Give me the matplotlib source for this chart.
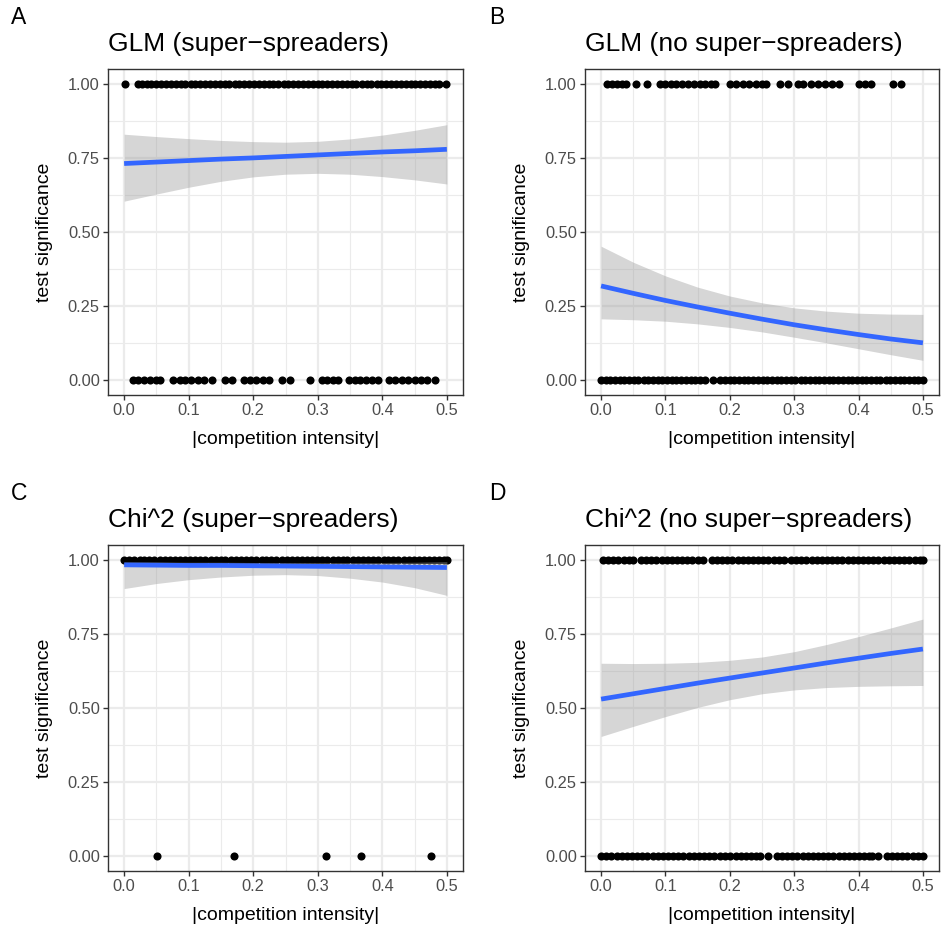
import numpy as np
import matplotlib
matplotlib.use("Agg")
import matplotlib.pyplot as plt

plt.rcParams['font.family'] = ['Liberation Sans', 'DejaVu Sans']

# points : x value of each test, y = 1 (significant) or 0 (not)
A_top = [0.002, 0.021, 0.028, 0.035, 0.042, 0.05, 0.057, 0.065, 0.073, 0.08, 0.088, 0.095, 0.103, 0.11,
         0.118, 0.125, 0.133, 0.14, 0.148, 0.156, 0.163, 0.171, 0.178, 0.186, 0.194, 0.201, 0.209, 0.216,
         0.224, 0.231, 0.239, 0.247, 0.254, 0.262, 0.27, 0.277, 0.285, 0.292, 0.3, 0.307, 0.315, 0.322,
         0.33, 0.338, 0.345, 0.353, 0.36, 0.368, 0.376, 0.383, 0.391, 0.398, 0.406, 0.413, 0.421, 0.429,
         0.436, 0.444, 0.451, 0.459, 0.466, 0.474, 0.481, 0.488, 0.498]
A_bottom = [0.014, 0.022, 0.031, 0.04, 0.05, 0.056, 0.076, 0.086, 0.095, 0.104, 0.114, 0.124, 0.136,
            0.157, 0.167, 0.185, 0.195, 0.205, 0.215, 0.225, 0.245, 0.257, 0.288, 0.306, 0.315, 0.323,
            0.332, 0.348, 0.357, 0.366, 0.375, 0.384, 0.393, 0.41, 0.42, 0.43, 0.44, 0.45, 0.46, 0.47, 0.482]

B_top = [0.009, 0.017, 0.025, 0.033, 0.039, 0.055, 0.071, 0.092, 0.1, 0.108, 0.117, 0.126, 0.135, 0.144,
         0.153, 0.162, 0.17, 0.177, 0.2, 0.21, 0.22, 0.23, 0.24, 0.25, 0.256, 0.278, 0.29, 0.306, 0.314,
         0.326, 0.337, 0.348, 0.359, 0.369, 0.4, 0.41, 0.42, 0.454, 0.466]
B_bottom = [0.0, 0.007, 0.014, 0.022, 0.029, 0.036, 0.044, 0.051, 0.058, 0.066, 0.073, 0.08, 0.088, 0.095,
            0.102, 0.11, 0.117, 0.124, 0.132, 0.139, 0.146, 0.154, 0.161, 0.174, 0.185, 0.192, 0.2, 0.207,
            0.214, 0.222, 0.229, 0.236, 0.244, 0.251, 0.258, 0.266, 0.273, 0.28, 0.288, 0.295, 0.302, 0.31,
            0.317, 0.324, 0.332, 0.339, 0.346, 0.354, 0.361, 0.368, 0.376, 0.383, 0.39, 0.398, 0.405,
            0.412, 0.42, 0.427, 0.434, 0.442, 0.449, 0.456, 0.464, 0.471, 0.478, 0.486, 0.493, 0.5]

C_top = [0.0, 0.008, 0.016, 0.024, 0.031, 0.039, 0.047, 0.055, 0.063, 0.071, 0.079, 0.087, 0.094, 0.102,
         0.11, 0.118, 0.126, 0.134, 0.142, 0.15, 0.157, 0.165, 0.173, 0.181, 0.189, 0.197, 0.205, 0.213,
         0.22, 0.228, 0.236, 0.244, 0.252, 0.26, 0.268, 0.276, 0.283, 0.291, 0.299, 0.307, 0.315, 0.323,
         0.331, 0.339, 0.346, 0.354, 0.362, 0.37, 0.378, 0.386, 0.394, 0.402, 0.409, 0.417, 0.425, 0.433,
         0.441, 0.449, 0.457, 0.465, 0.472, 0.48, 0.488, 0.496, 0.5]
C_bottom = [0.051, 0.17, 0.313, 0.367, 0.476]

D_top = [0.003, 0.011, 0.019, 0.027, 0.035, 0.043, 0.05, 0.062, 0.07, 0.078, 0.086, 0.094, 0.102, 0.11,
         0.118, 0.126, 0.134, 0.142, 0.15, 0.158, 0.172, 0.18, 0.188, 0.196, 0.204, 0.212, 0.22,
         0.228, 0.236, 0.244, 0.252, 0.26, 0.268, 0.276, 0.284, 0.295, 0.303, 0.311, 0.319, 0.327,
         0.335, 0.343, 0.351, 0.359, 0.367, 0.375, 0.383, 0.391, 0.399, 0.407, 0.415, 0.423, 0.431,
         0.439, 0.447, 0.455, 0.463, 0.471, 0.479, 0.487, 0.495, 0.5]
D_bottom = [0.0, 0.008, 0.016, 0.024, 0.032, 0.04, 0.048, 0.056, 0.064, 0.072, 0.08, 0.088, 0.096, 0.104,
            0.112, 0.12, 0.128, 0.136, 0.144, 0.152, 0.16, 0.168, 0.176, 0.185, 0.193, 0.201, 0.209, 0.217,
            0.225, 0.233, 0.241, 0.247, 0.26, 0.273, 0.281, 0.289, 0.297, 0.305, 0.313, 0.321, 0.329,
            0.337, 0.345, 0.353, 0.361, 0.369, 0.377, 0.385, 0.393, 0.401, 0.409, 0.416, 0.421, 0.431,
            0.444, 0.452, 0.46, 0.468, 0.476, 0.484, 0.492, 0.5]

# logistic fits with 95% band
fit_x = [0, 0.05, 0.1, 0.15, 0.2, 0.25, 0.3, 0.35, 0.4, 0.45, 0.5]
A_fit = [0.731, 0.736, 0.741, 0.746, 0.750, 0.755, 0.760, 0.765, 0.770, 0.774, 0.779]
A_hi = [0.830, 0.822, 0.815, 0.809, 0.805, 0.803, 0.806, 0.814, 0.827, 0.843, 0.862]
A_lo = [0.604, 0.628, 0.651, 0.671, 0.686, 0.695, 0.698, 0.695, 0.687, 0.676, 0.662]
B_fit = [0.318, 0.293, 0.269, 0.247, 0.226, 0.206, 0.187, 0.170, 0.154, 0.139, 0.126]
B_hi = [0.452, 0.398, 0.352, 0.314, 0.284, 0.261, 0.244, 0.233, 0.226, 0.223, 0.222]
B_lo = [0.207, 0.204, 0.199, 0.190, 0.178, 0.163, 0.145, 0.126, 0.106, 0.086, 0.067]
C_fit = [0.983, 0.982, 0.981, 0.981, 0.980, 0.979, 0.978, 0.977, 0.976, 0.975, 0.974]
C_hi = [0.993, 0.993, 0.992, 0.992, 0.991, 0.991, 0.991, 0.991, 0.991, 0.992, 0.994]
C_lo = [0.903, 0.920, 0.933, 0.942, 0.948, 0.950, 0.947, 0.938, 0.925, 0.906, 0.880]
D_fit = [0.530, 0.548, 0.566, 0.584, 0.601, 0.618, 0.635, 0.652, 0.668, 0.684, 0.699]
D_hi = [0.651, 0.650, 0.651, 0.654, 0.661, 0.672, 0.690, 0.714, 0.741, 0.770, 0.800]
D_lo = [0.404, 0.438, 0.471, 0.502, 0.528, 0.548, 0.561, 0.569, 0.573, 0.575, 0.576]

titles = ["GLM (super\u2212spreaders)", "GLM (no super\u2212spreaders)",
          "Chi^2 (super\u2212spreaders)", "Chi^2 (no super\u2212spreaders)"]
tags = ["A", "B", "C", "D"]

W, H = 953, 935
fig = plt.figure(figsize=(W / 100, H / 100), dpi=100)

# panel boxes in pixels: left, top, width, height
boxes = [(108, 69, 355, 326), (585, 69, 354, 326), (108, 545, 355, 326), (585, 545, 354, 326)]
panels = [(A_top, A_bottom, A_fit, A_lo, A_hi), (B_top, B_bottom, B_fit, B_lo, B_hi),
          (C_top, C_bottom, C_fit, C_lo, C_hi), (D_top, D_bottom, D_fit, D_lo, D_hi)]

for i in range(4):
    l, t, w, h = boxes[i]
    ax = fig.add_axes([l / W, 1 - (t + h) / H, w / W, h / H])
    top, bottom, fit, lo, hi = panels[i]

    ax.scatter(top, [1] * len(top), s=34, color='black', linewidths=0, zorder=3)
    ax.scatter(bottom, [0] * len(bottom), s=34, color='black', linewidths=0, zorder=3)
    ax.fill_between(fit_x, lo, hi, color='#999999', alpha=0.4, linewidth=0, zorder=4)
    ax.plot(fit_x, fit, color='#3366FF', linewidth=3.4, zorder=5, solid_capstyle='butt')

    ax.set_xlim(-0.025, 0.525)
    ax.set_ylim(-0.05, 1.05)
    ax.set_xticks([0, 0.1, 0.2, 0.3, 0.4, 0.5])
    ax.set_xticklabels(["0.0", "0.1", "0.2", "0.3", "0.4", "0.5"])
    ax.set_yticks([0, 0.25, 0.5, 0.75, 1.0])
    ax.set_yticklabels(["0.00", "0.25", "0.50", "0.75", "1.00"])
    ax.set_xticks([0.05, 0.15, 0.25, 0.35, 0.45], minor=True)
    ax.set_yticks([0.125, 0.375, 0.625, 0.875], minor=True)
    ax.grid(True, which='major', color='#EBEBEB', linewidth=1.6, zorder=0)
    ax.grid(True, which='minor', color='#EBEBEB', linewidth=0.8, zorder=0)
    ax.set_axisbelow(True)
    ax.tick_params(which='major', direction='out', length=3.4, width=1.0, color='#333333',
                   labelsize=11.8, labelcolor='#4D4D4D', pad=2.5)
    ax.tick_params(which='minor', length=0)
    for s in ax.spines.values():
        s.set_color('#333333')
        s.set_linewidth(1.0)

    ax.set_xlabel("|competition intensity|", fontsize=14, labelpad=9)
    ax.set_ylabel("test significance", fontsize=14, labelpad=11)

    fig.text(l / W, 1 - (t - 25) / H, titles[i], fontsize=19, ha='left', va='center')
    fig.text((11 if l < 300 else 489) / W, 1 - (t - 51) / H, tags[i], fontsize=16.5, ha='left', va='center')

fig.savefig("out.png", dpi=100)
